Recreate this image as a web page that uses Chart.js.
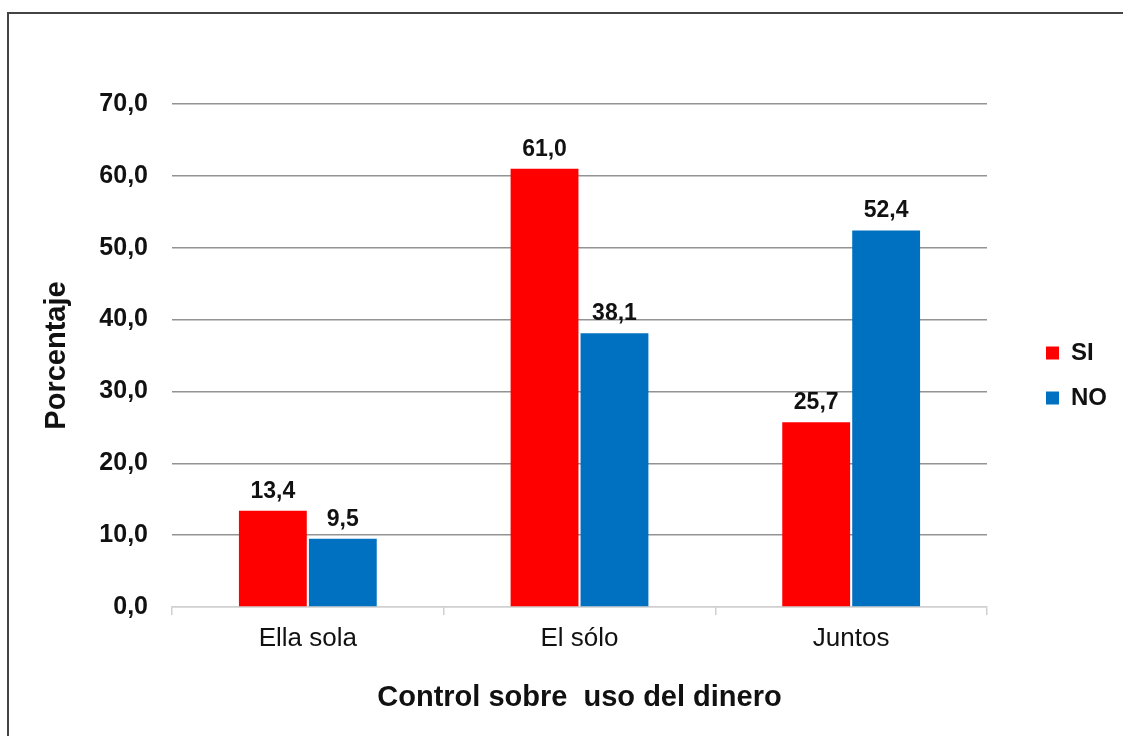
<!DOCTYPE html>
<html>
<head>
<meta charset="utf-8">
<script src="https://cdn.jsdelivr.net/npm/chart.js@4/dist/chart.umd.min.js"></script>
<style>
  html, body { margin: 0; padding: 0; background: #fff; overflow: hidden; }
  #frame { position: absolute; left: 7px; top: 12px; width: 1200px; height: 800px; border: 2px solid #444; }
  #chart { position: absolute; left: 0; top: 0; }
</style>
</head>
<body>
<div id="frame"></div>
<canvas id="chart" width="1123" height="736"></canvas>
<script>
// data
const categories = ['Ella sola', 'El sólo', 'Juntos'];
const seriesNames = ['SI', 'NO'];
const siValues = [13.4, 61.0, 25.7];
const noValues = [9.5, 38.1, 52.4];
const yTicks = [0, 10, 20, 30, 40, 50, 60, 70];

const FONT = '"Liberation Sans", Arial, sans-serif';
const fmt = v => v.toFixed(1).replace('.', ',');

// numbers above the bars
const valueLabels = {
    id: 'valueLabels',
    afterDatasetsDraw(chart) {
        const ctx = chart.ctx;
        ctx.save();
        ctx.font = 'bold 23px ' + FONT;
        ctx.fillStyle = '#111';
        ctx.textAlign = 'center';
        ctx.textBaseline = 'alphabetic';
        chart.data.datasets.forEach((ds, i) => {
            chart.getDatasetMeta(i).data.forEach((bar, j) => {
                ctx.fillText(fmt(ds.data[j]), bar.x, bar.y - 13);
            });
        });
        ctx.restore();
    }
};

// keep the legend in a fixed-width column and move it down next to the plot
const legendPlace = {
    id: 'legendPlace',
    beforeUpdate(chart) {
        const lg = chart.legend;
        if (lg && !lg._patched) {
            const fit = lg.fit;
            lg.fit = function () { fit.call(this); this.width = 136; };
            lg._patched = true;
        }
    },
    afterLayout(chart) {
        const lg = chart.legend;
        lg.left = 1025;
        lg.top = 320;
    }
};

new Chart(document.getElementById('chart'), {
    type: 'bar',
    data: {
        labels: categories,
        datasets: [{
            label: seriesNames[0],
            data: siValues,
            backgroundColor: '#ff0000',
            borderWidth: 0
        }, {
            label: seriesNames[1],
            data: noValues,
            backgroundColor: '#0070c0',
            borderWidth: 0
        }]
    },
    options: {
        responsive: false,
        animation: false,
        datasets: { bar: { categoryPercentage: 0.515, barPercentage: 0.97 } },
        layout: { padding: { top: 104, left: 20, right: 0, bottom: 10 } },
        plugins: {
            tooltip: { enabled: false },
            legend: {
                position: 'right',
                align: 'start',
                fullSize: false,
                labels: {
                    boxWidth: 13,
                    boxHeight: 13,
                    padding: 21,
                    color: '#111',
                    font: { family: FONT, size: 24, weight: 'bold' }
                }
            }
        },
        scales: {
            x: {
                offset: true,
                grid: {
                    offset: true,
                    drawOnChartArea: false,
                    drawTicks: true,
                    tickLength: 8,
                    color: '#d0d0d0',
                    lineWidth: 1.5
                },
                border: { color: '#d0d0d0', width: 1.5 },
                ticks: {
                    padding: 8,
                    color: '#111',
                    font: { family: FONT, size: 26 }
                },
                title: {
                    display: true,
                    text: 'Control sobre  uso del dinero',
                    color: '#111',
                    font: { family: FONT, size: 29, weight: 'bold' },
                    padding: { top: 0, bottom: 11 }
                },
                afterFit(scale) { scale.height = 119; }
            },
            y: {
                min: yTicks[0],
                max: yTicks[yTicks.length - 1],
                afterBuildTicks(scale) { scale.ticks = yTicks.map(v => ({ value: v })); },
                grid: {
                    drawTicks: false,
                    color: ctx => ctx.tick && ctx.tick.value === 0 ? '#d0d0d0' : '#939393',
                    lineWidth: 1.5
                },
                border: { display: false },
                ticks: {
                    padding: 24,
                    color: '#111',
                    font: { family: FONT, size: 25, weight: 'bold' },
                    callback: v => fmt(v)
                },
                title: {
                    display: true,
                    text: 'Porcentaje',
                    color: '#111',
                    font: { family: FONT, size: 29, weight: 'bold' },
                    padding: { top: 20, bottom: 0 }
                },
                afterFit(scale) { scale.width = 152; }
            }
        }
    },
    plugins: [valueLabels, legendPlace]
});
</script>
</body>
</html>
